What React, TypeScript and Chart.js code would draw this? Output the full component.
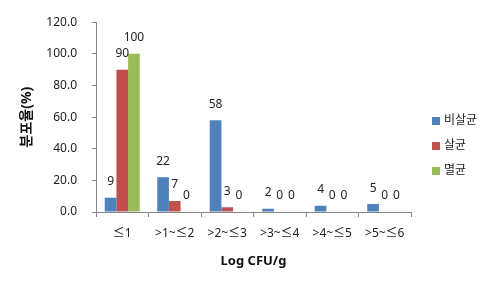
import React, { useEffect, useRef } from "react";
import { Chart, registerables } from "chart.js";

Chart.register(...registerables);

const categories = ["≤1", ">1~≤2", ">2~≤3", ">3~≤4", ">4~≤5", ">5~≤6"];
const seriesNames = ["비살균", "살균", "멸균"];
const nonSterilized = [9, 22, 58, 2, 4, 5];
const pasteurized = [90, 7, 3, 0, 0, 0];
const sterilized = [100, 0, 0, 0, 0, 0];
const seriesColors = ["#4F81BD", "#C0504D", "#9BBB59"];
const yTitle = "분포율(%)";
const xTitle = "Log CFU/g";

const FONT = "'Noto Sans', 'Noto Sans CJK KR', sans-serif";

const labelPlugin = {
  id: "valueLabels",
  afterDatasetsDraw(chart: any) {
    const ctx = chart.ctx;
    ctx.save();
    ctx.font = `12px ${FONT}`;
    ctx.fillStyle = "#222";
    ctx.textAlign = "center";
    ctx.textBaseline = "middle";
    chart.data.datasets.forEach((ds: any, i: number) => {
      const meta = chart.getDatasetMeta(i);
      meta.data.forEach((el: any, j: number) => {
        ctx.fillText(String(ds.data[j]), el.x, el.y - 16);
      });
    });
    ctx.restore();
  },
};

const legendPlugin = {
  id: "sideLegend",
  afterDraw(chart: any) {
    const ctx = chart.ctx;
    ctx.save();
    ctx.font = `12px ${FONT}`;
    ctx.textBaseline = "middle";
    ctx.textAlign = "left";
    const x = 432;
    const y0 = 121;
    chart.data.datasets.forEach((ds: any, i: number) => {
      const y = y0 + i * 25;
      ctx.fillStyle = ds.backgroundColor;
      ctx.fillRect(x, y - 4, 8, 8);
      ctx.fillStyle = "#222";
      ctx.fillText(ds.label, x + 12, y);
    });
    ctx.restore();
  },
};

export default function App() {
  const ref = useRef<HTMLCanvasElement>(null);
  useEffect(() => {
    document.body.style.margin = "0";
    const datasets = [nonSterilized, pasteurized, sterilized].map((d, i) => ({
      label: seriesNames[i],
      data: d,
      backgroundColor: seriesColors[i],
      borderWidth: 0,
      categoryPercentage: 0.667,
      barPercentage: 1,
    }));
    const chart = new Chart(ref.current!, {
      type: "bar",
      data: { labels: categories, datasets },
      options: {
        animation: false,
        responsive: false,
        maintainAspectRatio: false,
        layout: { padding: { top: 10, right: 87, left: 0, bottom: 0 } },
        plugins: { legend: { display: false }, tooltip: { enabled: false } },
        scales: {
          x: {
            afterFit: (s: any) => { s.height = 78; },
            grid: { drawOnChartArea: false, drawTicks: true, tickLength: 5, color: "#868686", offset: true },
            border: { color: "#868686" },
            ticks: { color: "#222", font: { family: FONT, size: 12 }, padding: 9, maxRotation: 0 },
            title: { display: true, text: xTitle, color: "#111", font: { family: FONT, size: 13, weight: "bold" }, padding: { top: 0, bottom: 21 } },
          },
          y: {
            min: 0,
            max: 120,
            afterFit: (s: any) => { s.width = 96; },
            grid: { drawOnChartArea: false, drawTicks: true, tickLength: 4, color: "#868686" },
            border: { color: "#868686" },
            ticks: { stepSize: 20, color: "#222", font: { family: FONT, size: 12 }, padding: 15, callback: (v: any) => Number(v).toFixed(1) },
            title: { display: true, text: yTitle, color: "#111", font: { family: FONT, size: 14, weight: "bold" }, padding: { top: 19, bottom: 0 } },
          },
        },
      },
      plugins: [labelPlugin, legendPlugin],
    });
    return () => chart.destroy();
  }, []);
  return (
    <div style={{ width: 498, height: 290 }}>
      <canvas ref={ref} width={498} height={290} style={{ display: "block" }} />
    </div>
  );
}
